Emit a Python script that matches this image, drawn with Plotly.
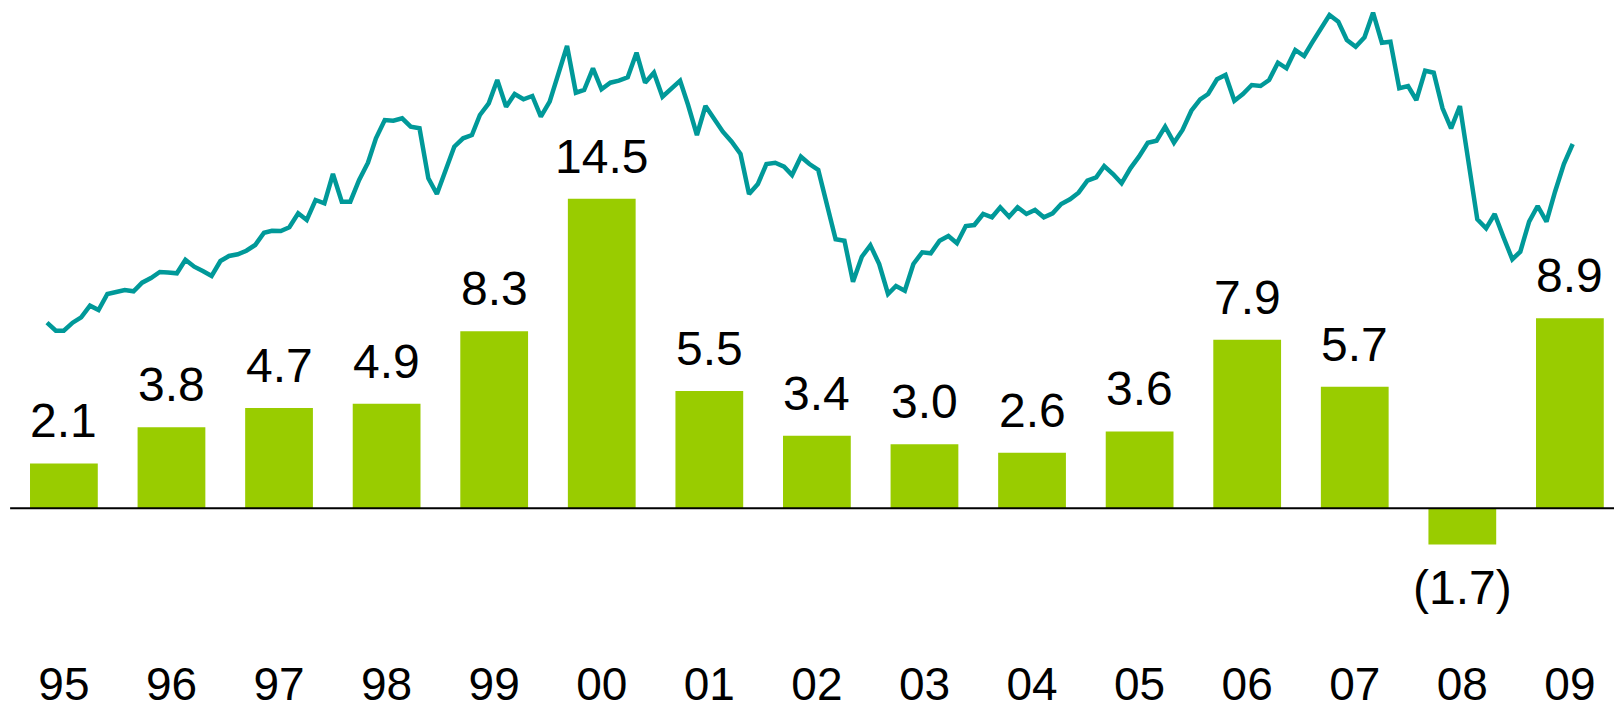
import pandas as pd
import plotly.graph_objects as go

# ---- Bar data (annual values) ----
years = ["95", "96", "97", "98", "99", "00", "01", "02", "03", "04", "05", "06", "07", "08", "09"]
bar_values = [2.1, 3.8, 4.7, 4.9, 8.3, 14.5, 5.5, 3.4, 3.0, 2.6, 3.6, 7.9, 5.7, -1.7, 8.9]

# ---- Line data (monthly index level, Jan 1995 - Sep 2009) ----
line_start = "1995-01-01"
index_level = [
    177.3, 169.3, 169.3, 177.3, 182.7, 194.3, 190.0, 206.0, 208.0, 210.0, 208.7, 217.3,
    222.0, 228.0, 227.5, 226.7, 240.3, 233.3, 229.0, 224.0, 239.0, 244.0, 245.7, 249.3,
    255.0, 267.3, 269.3, 269.0, 272.7, 286.7, 280.0, 300.0, 296.7, 326.0, 298.3, 298.3,
    320.0, 337.3, 361.7, 380.0, 379.3, 381.7, 373.3, 371.7, 321.7, 306.0, 330.0, 353.3,
    361.7, 365.0, 385.0, 396.7, 420.0, 393.3, 406.0, 400.7, 404.0, 383.3, 398.3, 426.7,
    454.0, 407.3, 410.0, 431.7, 410.7, 417.3, 419.3, 422.7, 447.3, 417.3, 427.3, 403.3,
    411.7, 419.3, 395.0, 365.0, 394.0, 381.7, 368.3, 358.3, 346.0, 306.0, 316.0, 336.0,
    337.3, 333.3, 325.0, 343.3, 336.0, 330.0, 295.0, 260.7, 259.3, 218.3, 243.3, 254.7,
    236.0, 206.0, 214.0, 209.3, 236.0, 247.7, 246.7, 259.3, 264.0, 256.7, 274.0, 275.0,
    286.0, 282.7, 292.7, 283.3, 292.7, 286.0, 290.0, 282.7, 286.7, 296.0, 300.7, 307.3,
    319.3, 322.7, 334.0, 326.0, 316.7, 331.7, 343.3, 357.3, 359.3, 373.3, 357.3, 370.0,
    389.3, 400.7, 406.0, 420.7, 425.0, 399.3, 406.0, 415.0, 414.0, 420.0, 437.3, 431.7,
    450.0, 444.0, 457.3, 471.7, 485.0, 478.3, 460.0, 453.3, 462.7, 487.3, 457.3, 458.3,
    411.7, 414.0, 400.0, 429.3, 427.3, 391.7, 371.7, 394.0, 333.3, 280.7, 271.7, 286.0,
    262.7, 240.7, 248.3, 278.3, 294.0, 278.3, 308.3, 336.0, 356.0,
]
line_dates = pd.date_range(line_start, periods=len(index_level), freq="MS")

BAR_COLOR = "#99CC00"
LINE_COLOR = "#009999"
FONT = "Liberation Sans, Arial, sans-serif"
FS = 48
TICK_FS = 46

fig = go.Figure()

fig.add_trace(go.Bar(
    x=years, y=bar_values, marker=dict(color=BAR_COLOR, line=dict(width=0)),
    width=0.63, xaxis="x", yaxis="y", showlegend=False, hoverinfo="skip",
))

fig.add_trace(go.Scatter(
    x=line_dates, y=index_level, mode="lines",
    line=dict(color=LINE_COLOR, width=4.5),
    xaxis="x2", yaxis="y2", showlegend=False, hoverinfo="skip",
))

# value labels (x given as category position index)
for i, v in enumerate(bar_values):
    if v >= 0:
        fig.add_annotation(x=i, y=v, xref="x", yref="y", text=f"{v:.1f}",
                           showarrow=False, yanchor="bottom", yshift=14,
                           font=dict(family=FONT, size=FS, color="#000000"))
    else:
        fig.add_annotation(x=i, y=v, xref="x", yref="y", text=f"({abs(v):.1f})",
                           showarrow=False, yanchor="top", yshift=-14,
                           font=dict(family=FONT, size=FS, color="#000000"))

# baseline
fig.add_shape(type="line", xref="x", yref="y", x0=-0.5, x1=14.5, y0=0, y1=0,
              line=dict(color="#000000", width=2))

fig.update_layout(
    template="none",
    width=1614, height=710,
    margin=dict(l=0, r=0, t=0, b=57, pad=0),
    paper_bgcolor="white", plot_bgcolor="white",
    bargap=0.37,
    xaxis=dict(type="category", range=[-0.594, 14.410], showgrid=False, zeroline=False,
               showline=False, ticks="", automargin=False,
               tickfont=dict(family=FONT, size=TICK_FS, color="#000000")),
    yaxis=dict(range=[-6.781, 23.819], visible=False, showgrid=False, zeroline=False,
               automargin=False),
    xaxis2=dict(type="date", overlaying="x", range=["1994-07-20", "2010-01-24"],
                visible=False, showgrid=False, automargin=False),
    yaxis2=dict(range=[-153, 500], overlaying="y", visible=False, showgrid=False,
                automargin=False),
)

fig.write_html("out.html", config={"displayModeBar": False},
               post_script="document.body.style.margin='0px';")
